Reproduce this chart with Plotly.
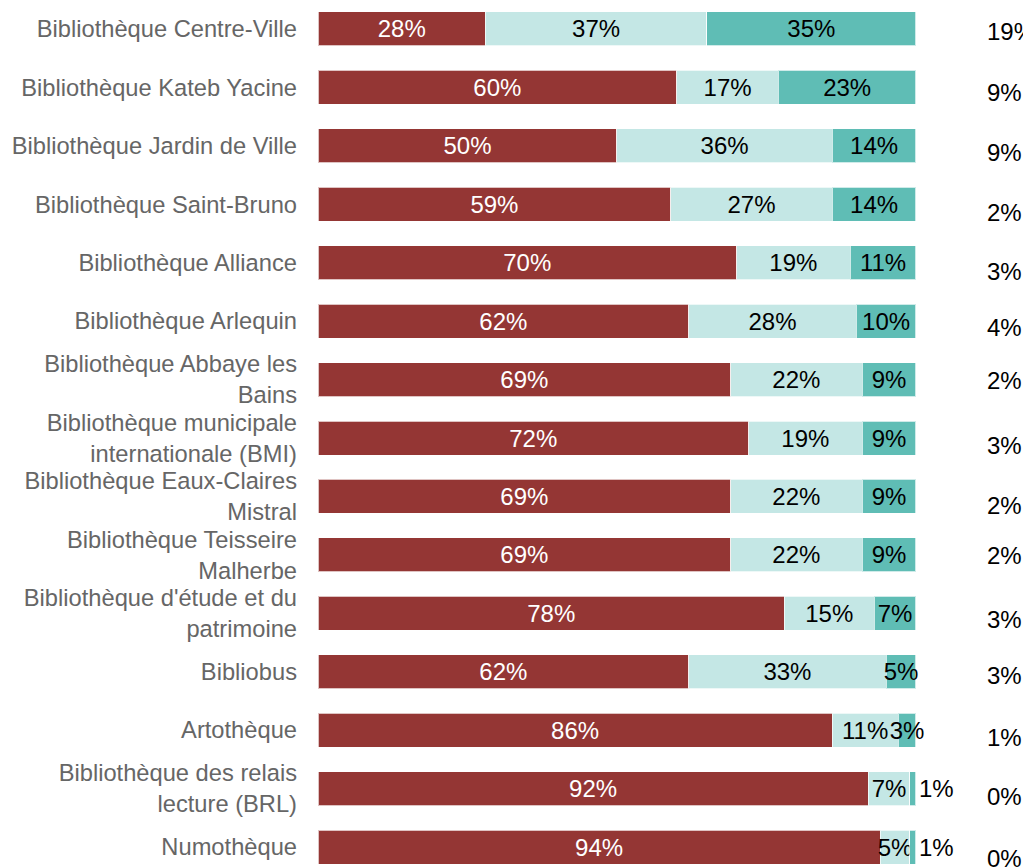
import plotly.graph_objects as go

categories = [
    "Bibliothèque Centre-Ville",
    "Bibliothèque Kateb Yacine",
    "Bibliothèque Jardin de Ville",
    "Bibliothèque Saint-Bruno",
    "Bibliothèque Alliance",
    "Bibliothèque Arlequin",
    "Bibliothèque Abbaye les<br>Bains",
    "Bibliothèque municipale<br>internationale (BMI)",
    "Bibliothèque Eaux-Claires<br>Mistral",
    "Bibliothèque Teisseire<br>Malherbe",
    "Bibliothèque d'étude et du<br>patrimoine",
    "Bibliobus",
    "Artothèque",
    "Bibliothèque des relais<br>lecture (BRL)",
    "Numothèque",
]
series_red = [28, 60, 50, 59, 70, 62, 69, 72, 69, 69, 78, 62, 86, 92, 94]
series_light = [37, 17, 36, 27, 19, 28, 22, 19, 22, 22, 15, 33, 11, 7, 5]
series_teal = [35, 23, 14, 14, 11, 10, 9, 9, 9, 9, 7, 5, 3, 1, 1]
side_values = [19, 9, 9, 2, 3, 4, 2, 3, 2, 2, 3, 3, 1, 0, 0]

# layout tweaks (pixel offsets of the side column labels, downward)
side_offsets = [3, 5, 7, 8, 9, 6, 1, 7, 9, 1, 6, 4, 7, 8, 11]

RED = "#943634"
LIGHT = "#C4E7E5"
TEAL = "#5FBDB5"
FONT = "Arial, Liberation Sans, sans-serif"
EDGE = dict(color="rgba(255,255,255,0.7)", width=1)

def pct(vals):
    return [f"{v}%" for v in vals]

fig = go.Figure()
fig.add_trace(go.Bar(
    y=categories, x=series_red, orientation="h", marker=dict(color=RED, line=EDGE),
    text=pct(series_red), textposition="inside", insidetextanchor="middle",
    textangle=0, constraintext="none",
    insidetextfont=dict(color="white", size=24, family=FONT),
    hoverinfo="skip"))
fig.add_trace(go.Bar(
    y=categories, x=series_light, orientation="h", marker=dict(color=LIGHT, line=EDGE),
    text=pct(series_light), textposition="inside", insidetextanchor="middle",
    textangle=0, constraintext="none",
    insidetextfont=dict(color="black", size=24, family=FONT),
    hoverinfo="skip"))
teal_pos = ["outside" if v <= 1 else "inside" for v in series_teal]
fig.add_trace(go.Bar(
    y=categories, x=series_teal, orientation="h", marker=dict(color=TEAL, line=EDGE),
    text=pct(series_teal), textposition=teal_pos, insidetextanchor="middle",
    textangle=0, constraintext="none", cliponaxis=False,
    insidetextfont=dict(color="black", size=24, family=FONT),
    outsidetextfont=dict(color="black", size=24, family=FONT),
    hoverinfo="skip"))

for cat, v, off in zip(categories, side_values, side_offsets):
    fig.add_annotation(x=111.5, y=cat, xref="x", yref="y", text=f"{v}%",
                       showarrow=False, xanchor="left", yanchor="middle",
                       yshift=-off, font=dict(color="black", size=24, family=FONT))

fig.update_layout(
    barmode="stack", bargap=0.418,
    width=1023, height=867,
    margin=dict(l=318, r=0, t=0, b=0),
    plot_bgcolor="white", paper_bgcolor="white",
    showlegend=False,
    font=dict(family=FONT),
)
fig.update_xaxes(range=[0, 117.9], visible=False, showgrid=False)
fig.update_yaxes(range=[14.342, -0.496], showgrid=False, zeroline=False, showline=False,
                 ticks="", ticklabelstandoff=20, automargin=False,
                 tickfont=dict(size=23.7, color="#666666", family=FONT))

fig.write_html(
    "out.html",
    config={"displayModeBar": False},
    post_script="document.body.style.margin='0';document.body.style.overflow='hidden';",
)
